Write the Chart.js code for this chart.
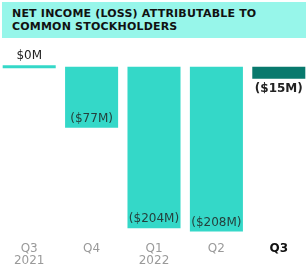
<!DOCTYPE html>
<html><head><meta charset="utf-8">
<script src="https://cdn.jsdelivr.net/npm/chart.js@4"></script>
<style>
html,body{margin:0;padding:0;background:#fff;width:308px;height:272px;overflow:hidden;position:relative;}
#title{position:absolute;left:2px;top:2px;width:304px;height:36px;background:#97f6ea;box-sizing:border-box;padding:6px 0 0 10px;
font-family:"DejaVu Sans",sans-serif;font-weight:bold;font-size:11px;line-height:12.5px;color:#111;letter-spacing:0.2px;}
#wrap{position:absolute;left:-2px;top:38px;width:312px;height:234px;}
</style></head><body>
<div id="title">NET INCOME (LOSS) ATTRIBUTABLE TO<br>COMMON STOCKHOLDERS</div>
<div id="wrap"><canvas id="c" width="312" height="234"></canvas></div>
<script>
const quarters = ["Q3","Q4","Q1","Q2","Q3"];
const years = ["2021","","2022","",""];
const values = [0,-77,-204,-208,-15];
const valueLabels = ["$0M","($77M)","($204M)","($208M)","($15M)"];
const barColors = ["#34d8c8","#34d8c8","#34d8c8","#34d8c8","#08796d"];
const tickColors = ["#9a9a9a","#9a9a9a","#9a9a9a","#9a9a9a","#111111"];

const labelPlugin = {
  id:'vals',
  afterDatasetsDraw(chart){
    const ctx = chart.ctx;
    const meta = chart.getDatasetMeta(0);
    ctx.save();
    ctx.textAlign = 'center';
    ctx.textBaseline = 'middle';
    meta.data.forEach((bar,i)=>{
      const v = values[i];
      let y;
      ctx.font = '12px "DejaVu Sans", sans-serif';
      if (v === 0) { y = bar.y - 12; ctx.fillStyle = '#222'; }
      else if (v > -40) { y = bar.y + 10; ctx.fillStyle = '#222'; ctx.font = 'bold 12px "DejaVu Sans", sans-serif'; }
      else { y = bar.y - 9; ctx.fillStyle = '#24403c'; }
      ctx.fillText(valueLabels[i], bar.x, y);
    });
    ctx.restore();
  }
};

new Chart(document.getElementById('c'), {
  type:'bar',
  data:{
    labels: quarters.map((q,i)=> years[i] ? [q, years[i]] : q),
    datasets:[{
      data: values,
      backgroundColor: barColors,
      borderWidth: 0,
      minBarLength: 3,
      barPercentage: 0.85,
      categoryPercentage: 1,
      clip: false
    }]
  },
  options:{
    responsive:false,
    animation:false,
    maintainAspectRatio:false,
    layout:{padding:{top:17,left:0,right:0,bottom:0}},
    plugins:{legend:{display:false},tooltip:{enabled:false}},
    scales:{
      y:{display:false,min:-210,max:15},
      x:{
        grid:{display:false,drawTicks:false},
        border:{display:false},
        ticks:{
          padding:10,
          font:(c)=>({family:'"DejaVu Sans", sans-serif', size:12, lineHeight:1.0, weight: c.index===4 ? 'bold' : 'normal'}),
          color:(c)=>tickColors[c.index],
          maxRotation:0, autoSkip:false
        },
        afterFit(s){ s.height = 39; }
      }
    }
  },
  plugins:[labelPlugin]
});
</script>
</body></html>
